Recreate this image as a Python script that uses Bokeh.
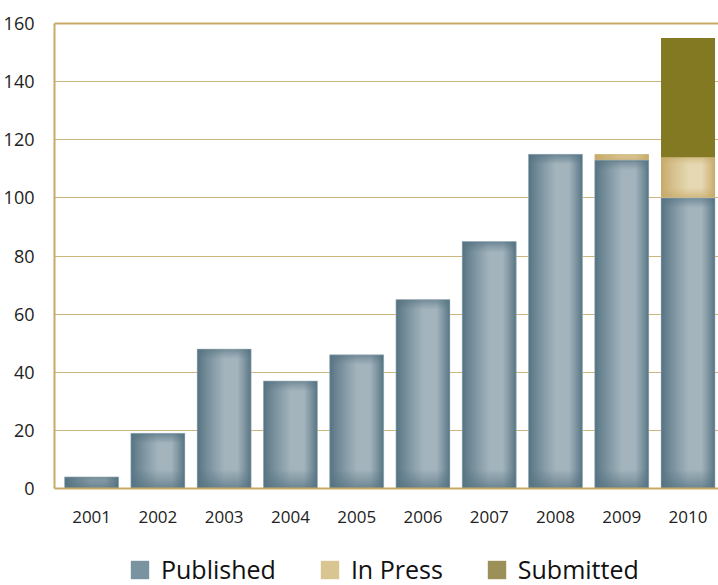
import numpy as np
from bokeh.plotting import figure
from bokeh.layouts import column
from bokeh.models import (Range1d, FixedTicker, LinearAxis, Legend, LegendItem,
                          ColumnDataSource)
from bokeh.embed import file_html
from bokeh.resources import INLINE

# Publications per year, split by status
years = ["2001", "2002", "2003", "2004", "2005", "2006", "2007", "2008", "2009", "2010"]
published = [4, 19, 48, 37, 46, 65, 85, 115, 113, 100]
in_press = [0, 0, 0, 0, 0, 0, 0, 0, 2, 14]
submitted = [0, 0, 0, 0, 0, 0, 0, 0, 0, 41]
y_ticks = [0, 20, 40, 60, 80, 100, 120, 140, 160]

GOLD = "#c8a967"
GRID = "#cdb57e"
BAR_W = 0.815
ROWS_PER_UNIT = 3  # image rows per data unit, roughly one per screen pixel
FONT = "Open Sans"
PUB_FLAT, PRESS_FLAT, SUB_FLAT = "#7a93a0", "#d9c592", "#9b9058"

idx = list(range(len(years)))
press_bottom = published[:]
press_top = [a + b for a, b in zip(published, in_press)]
sub_top = [a + b for a, b in zip(press_top, submitted)]


def shaded_block(height, dark, light, cols=54, top_band=11.0, bottom_band=20.0):
    """RGBA image of a bar face: dark rim, lighter centre slightly right of middle."""
    rows = max(2, int(round(height * ROWS_PER_UNIT)))
    u = (np.arange(cols) + 0.5) / cols
    th = np.clip(np.minimum(u / 0.5, (1 - u) / 0.25), 0, 1)
    th = th ** 0.85
    yb = np.arange(rows) + 0.5
    yt = rows - yb
    tv = np.clip(np.minimum(yb / bottom_band, yt / top_band), 0, 1)
    tv = 0.25 + 0.75 * tv ** 0.8
    t = tv[:, None] * th[None, :]
    dark = np.array(dark, dtype=float)
    light = np.array(light, dtype=float)
    rgb = dark[None, None, :] + (light - dark)[None, None, :] * t[:, :, None]
    img = np.empty((rows, cols), dtype=np.uint32)
    view = img.view(dtype=np.uint8).reshape((rows, cols, 4))
    view[:, :, :3] = np.clip(rgb, 0, 255).astype(np.uint8)
    view[:, :, 3] = 255
    return img


p = figure(width=718, height=540, output_backend="svg", toolbar_location=None,
           x_range=Range1d(-0.56, 9.46), y_range=Range1d(0, 160),
           min_border_left=54, min_border_right=0, min_border_top=23,
           min_border_bottom=52, background_fill_color="white",
           border_fill_color="white")
p.outline_line_color = None

# flat base bars underneath the shaded faces
p.vbar(x=idx, top=published, bottom=0, width=BAR_W, fill_color=PUB_FLAT, line_color=None)
p.vbar(x=idx, top=press_top, bottom=press_bottom, width=BAR_W,
       fill_color=PRESS_FLAT, line_color=None)

# shaded faces
pub_src = ColumnDataSource(dict(
    image=[shaded_block(v, (84, 114, 129), (163, 180, 189)) for v in published if v > 0],
    x=[i - BAR_W / 2 for i, v in zip(idx, published) if v > 0],
    y=[0 for v in published if v > 0],
    dw=[BAR_W for v in published if v > 0],
    dh=[v for v in published if v > 0],
))
p.image_rgba(image="image", x="x", y="y", dw="dw", dh="dh", source=pub_src)

press_src = ColumnDataSource(dict(
    image=[shaded_block(v, (200, 170, 104), (229, 216, 178), top_band=8, bottom_band=10)
           for v in in_press if v > 0],
    x=[i - BAR_W / 2 for i, v in zip(idx, in_press) if v > 0],
    y=[b for b, v in zip(press_bottom, in_press) if v > 0],
    dw=[BAR_W for v in in_press if v > 0],
    dh=[v for v in in_press if v > 0],
))
p.image_rgba(image="image", x="x", y="y", dw="dw", dh="dh", source=press_src)

p.vbar(x=idx, top=sub_top, bottom=press_top, width=BAR_W,
       fill_color="#847923", line_color=None)

# faint light rim on the published bars
p.vbar(x=idx, top=published, bottom=0, width=BAR_W, fill_color=None,
       line_color="#b4c3cb", line_alpha=0.5, line_width=1)

# axes
p.xaxis.ticker = FixedTicker(ticks=idx)
p.xaxis.major_label_overrides = {i: y for i, y in zip(idx, years)}
p.yaxis.ticker = FixedTicker(ticks=y_ticks)
for ax in (p.xaxis[0], p.yaxis[0]):
    ax.axis_line_color = GOLD
    ax.axis_line_width = 2
    ax.major_tick_line_color = None
    ax.minor_tick_line_color = None
    ax.major_label_text_font = FONT
    ax.major_label_text_color = "#222222"
p.xaxis.major_label_text_font_size = "17px"
p.xaxis.major_label_standoff = 16
p.yaxis.major_label_text_font_size = "18px"
p.yaxis.major_label_standoff = 14

top_axis = LinearAxis(ticker=FixedTicker(ticks=[]), axis_line_color=GOLD,
                      axis_line_width=2, major_tick_line_color=None,
                      minor_tick_line_color=None, major_label_text_font_size="0px")
p.add_layout(top_axis, "above")

p.xgrid.grid_line_color = None
p.ygrid.grid_line_color = GRID
p.ygrid.grid_line_width = 1
p.ygrid.ticker = FixedTicker(ticks=y_ticks)

# legend strip below the chart; its frame lines up with the chart frame
lg = figure(width=718, height=45, output_backend="svg", toolbar_location=None,
            x_range=Range1d(0, 1), y_range=Range1d(0, 1),
            min_border_left=0, min_border_right=0, min_border_top=0,
            min_border_bottom=0, background_fill_color="white",
            border_fill_color="white")
lg.axis.visible = False
lg.grid.visible = False
lg.outline_line_color = None
# zero-height bars: nothing shows in the strip, only their legend swatches
swatches = [lg.vbar(x=idx, top=0, bottom=0, width=BAR_W, fill_color=c, line_color=None)
            for c in (PUB_FLAT, PRESS_FLAT, SUB_FLAT)]
legend = Legend(items=[LegendItem(label=name, renderers=[r])
                       for name, r in zip(["Published", "In Press", "Submitted"], swatches)],
                orientation="horizontal", location=(74, -1),
                glyph_width=23, glyph_height=23, label_standoff=10, spacing=42,
                label_text_font=FONT, label_text_font_size="25px",
                label_text_color="#111111", border_line_color=None,
                background_fill_alpha=0, padding=0, margin=0)
lg.add_layout(legend)

open("out.html", "w").write(file_html(column(p, lg, spacing=0), INLINE))
